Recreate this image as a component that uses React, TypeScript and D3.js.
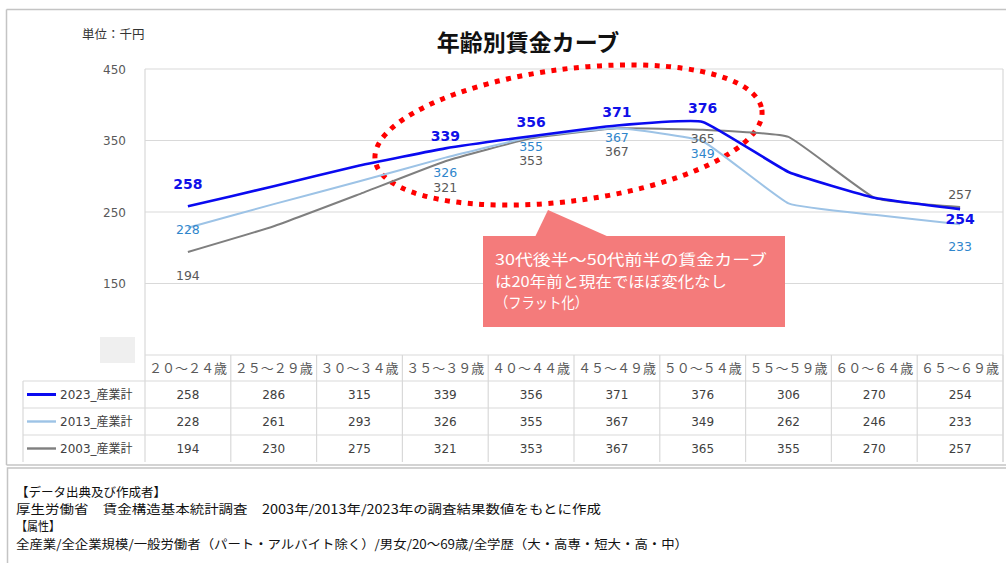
import React from 'react';
import * as d3 from 'd3';

const categories = ['２０～２４歳', '２５～２９歳', '３０～３４歳', '３５～３９歳', '４０～４４歳', '４５～４９歳', '５０～５４歳', '５５～５９歳', '６０～６４歳', '６５～６９歳'];
const values2023 = [258, 286, 315, 339, 356, 371, 376, 306, 270, 254];
const values2013 = [228, 261, 293, 326, 355, 367, 349, 262, 246, 233];
const values2003 = [194, 230, 275, 321, 353, 367, 365, 355, 270, 257];
const seriesNames = ['2023_産業計', '2013_産業計', '2003_産業計'];
const yTicks = [150, 250, 350, 450];
const labeledIndices = [0, 3, 4, 5, 6, 9];

const title = '年齢別賃金カーブ';
const unitLabel = '単位：千円';
const calloutLines = ['30代後半～50代前半の賃金カーブ', 'は20年前と現在でほぼ変化なし', '（フラット化）'];
const footerLines = [
  '【データ出典及び作成者】',
  '厚生労働省　賃金構造基本統計調査　2003年/2013年/2023年の調査結果数値をもとに作成',
  '【属性】',
  '全産業/全企業規模/一般労働者（パート・アルバイト除く）/男女/20～69歳/全学歴（大・高専・短大・高・中）',
];

// label vertical offsets (center relative to point), per series, per labeled index
const labelOffsets = [
  [-22, -12, -14, -13, -14, 10],
  [2, 15, 10, 9, 12, 22],
  [23, 26, 22, 23, 9, -12],
];

const FONT = '"DejaVu Sans", "Noto Sans CJK JP", sans-serif';
const JFONT = '"Noto Sans CJK JP", "DejaVu Sans", sans-serif';

export default function App() {
  const W = 1006, H = 563;
  const left = 145, right = 1003, top = 69, plotBottom = 355;
  const x = d3.scaleBand<string>().domain(categories).range([left, right]);
  const bw = x.bandwidth();
  const cx = (i: number) => (x(categories[i]) as number) + bw / 2;
  const y = d3.scaleLinear().domain([50, 450]).range([plotBottom, top]);

  const series = [
    { name: seriesNames[0], values: values2023, color: '#0a0af0', width: 2.6, labelColor: '#1010e8', bold: true },
    { name: seriesNames[1], values: values2013, color: '#9dc3e6', width: 2, labelColor: '#2f86cc', bold: false },
    { name: seriesNames[2], values: values2003, color: '#7f7f7f', width: 2, labelColor: '#595959', bold: false },
  ];

  const line = d3.line<number>().x((_, i) => cx(i)).y((d) => y(d)).curve(d3.curveCardinal.tension(0.65));

  const rowTops = [355, 381, 408, 435, 462];
  const gridColor = '#d9d9d9';
  const borderColor = '#c4c4c4';

  return (
    <svg width={W} height={H} style={{ position: 'absolute', left: 0, top: 0, background: '#fff' }}>
      <rect x={0} y={0} width={W} height={H} fill="#fff" />
      {/* outer chart border */}
      <line x1={6.5} y1={9.5} x2={W} y2={9.5} stroke={borderColor} strokeWidth={1.5} />
      <line x1={6.5} y1={9.5} x2={6.5} y2={465} stroke={borderColor} strokeWidth={1.5} />
      <line x1={6.5} y1={465} x2={W} y2={465} stroke={borderColor} strokeWidth={1.5} />
      {/* footer box */}
      <rect x={7.5} y={468} width={W} height={120} fill="none" stroke={borderColor} strokeWidth={1.5} />

      {/* title */}
      <text x={528} y={51} textAnchor="middle" fontFamily={JFONT} fontWeight="bold" fontSize={23} fill="#111">{title}</text>
      <text x={82} y={39} fontFamily={JFONT} fontSize={12.5} fill="#333">{unitLabel}</text>

      {/* gridlines */}
      {yTicks.map((t) => (
        <line key={t} x1={left} x2={right} y1={y(t)} y2={y(t)} stroke={gridColor} strokeWidth={1.2} />
      ))}
      <line x1={left} x2={left} y1={top} y2={rowTops[4]} stroke={gridColor} strokeWidth={1.2} />
      <line x1={right} x2={right} y1={top} y2={rowTops[4]} stroke={gridColor} strokeWidth={1.2} />
      {yTicks.map((t) => (
        <text key={t} x={126} y={y(t) + 4.5} textAnchor="end" fontFamily={FONT} fontSize={12} fill="#595959">{t}</text>
      ))}
      <rect x={100} y={337} width={35} height={26} fill="#efefef" />

      {/* dotted ellipse */}
      <ellipse cx={568.5} cy={135} rx={195} ry={66} transform="rotate(-7.4 568.5 135)" fill="none" stroke="#ff0000" strokeWidth={5} strokeDasharray="5 6.5" />

      {/* lines */}
      {series.slice().reverse().map((s) => (
        <path key={s.name} d={line(s.values) || ''} fill="none" stroke={s.color} strokeWidth={s.width} strokeLinejoin="round" />
      ))}

      {/* data labels */}
      {series.map((s, si) =>
        labeledIndices.map((idx, k) => (
          <text key={s.name + idx} x={cx(idx)} y={y(s.values[idx]) + labelOffsets[si][k] + (s.bold ? 5 : 4.5)} textAnchor="middle"
            fontFamily={FONT} fontSize={s.bold ? 14 : 12.5} fontWeight={s.bold ? 'bold' : 'normal'} fill={s.labelColor}>
            {s.values[idx]}
          </text>
        ))
      )}

      {/* callout */}
      <path d="M535,237 L548,210 L609,237 Z" fill="#f47b7b" />
      <rect x={483} y={236} width={302} height={91} fill="#f47b7b" />
      <text x={495} y={265} fontFamily={JFONT} fontSize={14.8} fill="#fff" textLength={272} lengthAdjust="spacingAndGlyphs">{calloutLines[0]}</text>
      <text x={495} y={286.5} fontFamily={JFONT} fontSize={14.8} fill="#fff" textLength={232} lengthAdjust="spacingAndGlyphs">{calloutLines[1]}</text>
      <text x={495} y={308} fontFamily={JFONT} fontSize={14.8} fill="#fff" textLength={93} lengthAdjust="spacingAndGlyphs">{calloutLines[2]}</text>

      {/* data table */}
      <line x1={left} x2={right} y1={rowTops[0]} y2={rowTops[0]} stroke={gridColor} strokeWidth={1.2} />
      {[1, 2, 3].map((r) => (
        <line key={r} x1={23} x2={right} y1={rowTops[r]} y2={rowTops[r]} stroke={gridColor} strokeWidth={1.2} />
      ))}
      <line x1={23} x2={23} y1={rowTops[1]} y2={rowTops[4]} stroke={gridColor} strokeWidth={1.2} />
      {categories.map((c) => (
        <line key={c} x1={(x(c) as number) + bw} x2={(x(c) as number) + bw} y1={rowTops[0]} y2={rowTops[4]} stroke={gridColor} strokeWidth={1.2} />
      ))}
      {categories.map((c, i) => (
        <text key={c} x={cx(i)} y={373} textAnchor="middle" fontFamily={JFONT} fontSize={13} fill="#595959">{c}</text>
      ))}
      {series.map((s, si) => {
        const yc = (rowTops[si + 1] + rowTops[si + 2]) / 2;
        return (
          <g key={s.name}>
            <line x1={27} x2={56} y1={yc} y2={yc} stroke={s.color} strokeWidth={s.width + 0.4} />
            <text x={60} y={yc + 4.5} fontFamily={FONT} fontSize={12} fill="#404040">{s.name}</text>
            {s.values.map((v, i) => (
              <text key={i} x={cx(i)} y={yc + 4.5} textAnchor="middle" fontFamily={FONT} fontSize={12} fill="#404040">{v}</text>
            ))}
          </g>
        );
      })}

      {/* footer */}
      <text x={16} y={497} fontFamily={JFONT} fontSize={12.5} fill="#111" textLength={150} lengthAdjust="spacingAndGlyphs">{footerLines[0]}</text>
      <text x={16} y={514} fontFamily={JFONT} fontSize={12.5} fill="#111" textLength={585} lengthAdjust="spacingAndGlyphs">{footerLines[1]}</text>
      <text x={16} y={531} fontFamily={JFONT} fontSize={12.5} fill="#111" textLength={44} lengthAdjust="spacingAndGlyphs">{footerLines[2]}</text>
      <text x={16} y={549} fontFamily={JFONT} fontSize={12.5} fill="#111" textLength={672} lengthAdjust="spacingAndGlyphs">{footerLines[3]}</text>
    </svg>
  );
}
